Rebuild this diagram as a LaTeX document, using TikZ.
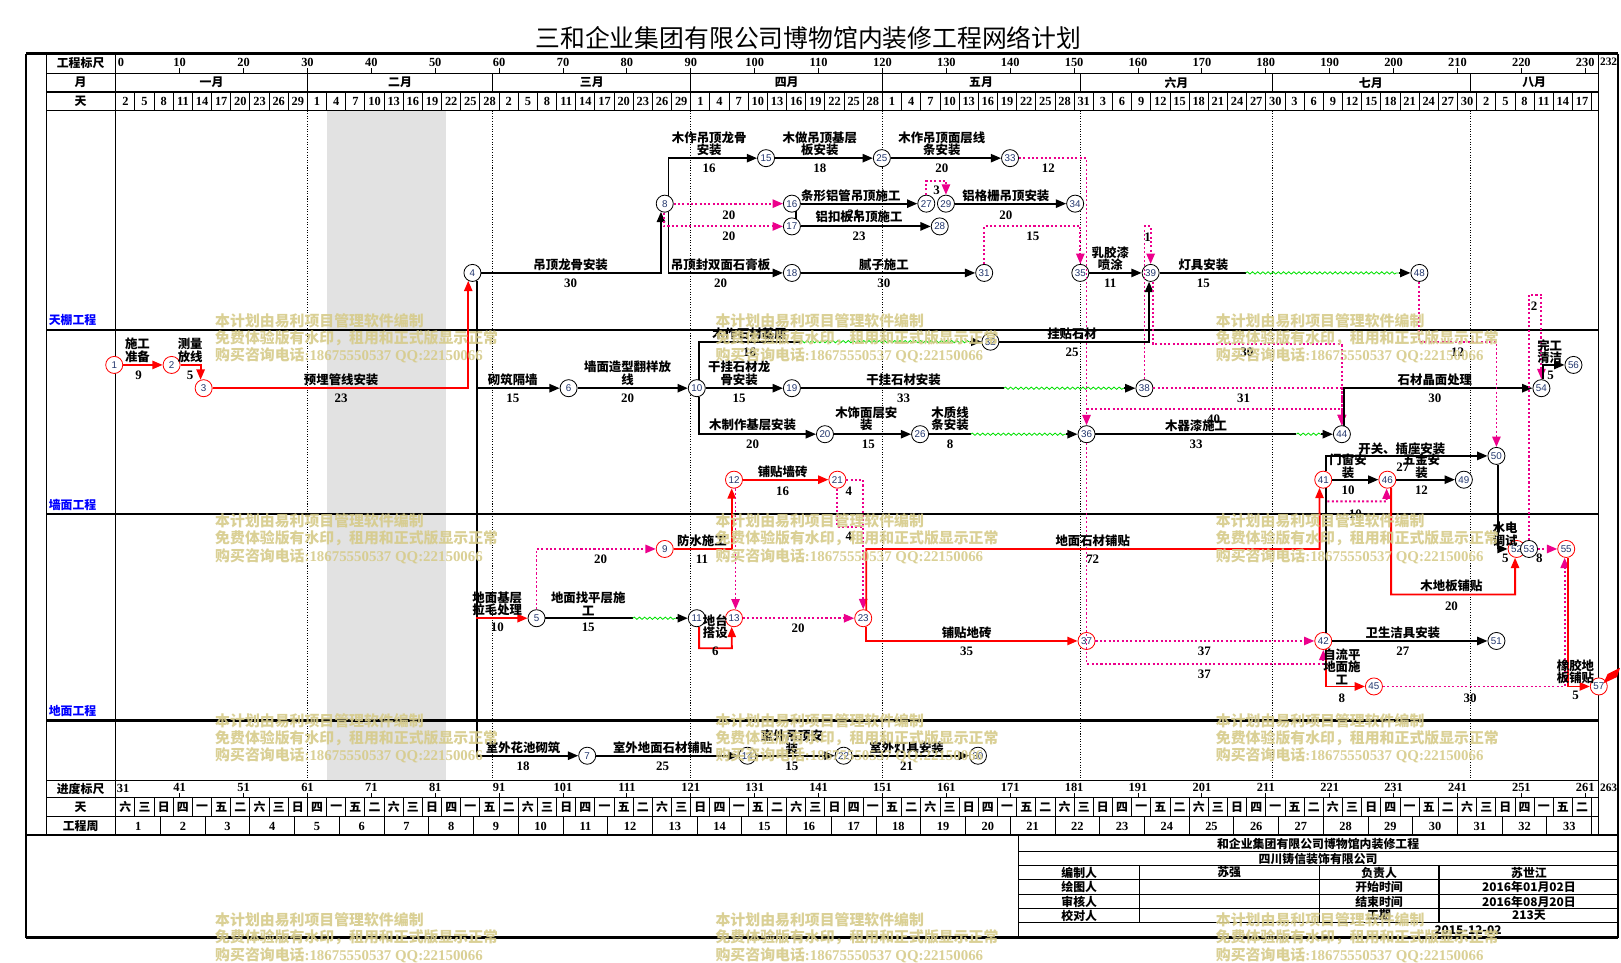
\documentclass[tikz,border=0pt]{standalone}
\usepackage{fontspec}
\setmainfont{Liberation Serif}
\newfontfamily\cjk{Noto Sans CJK SC}
\newfontfamily\nsans{Liberation Sans}
\usetikzlibrary{arrows.meta,decorations.pathmorphing}
\definecolor{nt}{RGB}{35,55,110}
\definecolor{wmc}{RGB}{214,203,138}
\definecolor{hol}{RGB}{226,226,226}
\definecolor{wv}{RGB}{0,225,0}
\newcommand\fLab{\cjk\bfseries\fontsize{12}{12}\selectfont}
\newcommand\fNum{\bfseries\fontsize{12.5}{12.5}\selectfont}
\newcommand\fCir{\nsans\fontsize{9.5}{9.5}\selectfont}
\newcommand\fHn{\bfseries\fontsize{12}{12}\selectfont}
\newcommand\fHc{\cjk\bfseries\fontsize{11.5}{12}\selectfont}
\newcommand\fWm{\cjk\bfseries\fontsize{14.4}{14.4}\selectfont}
\newcommand\mkL[4]{\node[llab] (#1) at (#2,#3) {#4};}
\newcommand\mkN[4]{\node[dnum] (#1) at (#2,#3) {#4};}
\begin{document}
\begin{tikzpicture}[x=1pt,y=-1pt,
  nnode/.style={circle,draw=black,line width=0.8pt,fill=white,minimum size=16.5pt,inner sep=0pt,font=\fCir,text=nt},
  rnode/.style={nnode,draw=red},
  atip/.style={-{Triangle[length=10pt,width=8pt]}},
  act/.style={line width=1.8pt,atip},
  actn/.style={line width=1.8pt},
  crit/.style={line width=1.8pt,red,atip},
  dum/.style={line width=1.8pt,magenta,dash pattern=on 2pt off 2.2pt,atip},
  dumn/.style={line width=1.8pt,magenta,dash pattern=on 2pt off 2.2pt},
  wavy/.style={draw=wv,line width=0.8pt,decorate,decoration={snake,amplitude=1.1pt,segment length=5pt}},
  llab/.style={font=\fLab,inner sep=0pt,align=center},
  dnum/.style={font=\fNum,inner sep=0pt},
  hn/.style={font=\fHn,inner sep=0pt},
  hc/.style={font=\fHc,inner sep=0pt},
  wm/.style={font=\fWm,text=wmc,inner sep=0pt,opacity=0.9},
  grid/.style={line width=1.2pt},
  sep/.style={line width=0.9pt},
  mdot/.style={line width=0.6pt,dash pattern=on 1pt off 1.5pt}]
\useasboundingbox (0,0) rectangle (1568,931);
\fill[white] (0,0) rectangle (1568,931);
\node[font=\cjk\fontsize{24}{24}\selectfont,inner sep=0pt] (title) at (782,37) {三和企业集团有限公司博物馆内装修工程网络计划};
% holiday shading and month lines
\fill[hol] (316,107) rectangle (431,755);
\foreach \m in {30,59,90,120,151,181,212}{
  \draw[mdot] ({112+6.18*\m},107) -- ({112+6.18*\m},755);
  \draw[sep] ({112+6.18*\m},71) -- ({112+6.18*\m},89);
}
% frame
\draw[line width=2.5pt] (25,52) -- (1565,52);
\draw[line width=2.5pt] (25,907) -- (1565,907);
\draw[line width=1.5pt] (25,52) -- (25,907);
\draw[line width=1.5pt] (1565,52) -- (1565,907);
\draw[line width=2.2pt] (25,808) -- (1565,808);
\draw[grid] (45,52) -- (45,808);
\draw[grid] (112,52) -- (112,808);
\draw[grid] (1546.5,52) -- (1546.5,808);
\draw[grid] (45,71) -- (1546.5,71);
\draw[grid] (45,89) -- (1546.5,89);
\draw[line width=1.5pt] (45,107) -- (1546.5,107);
\draw[line width=2.2pt] (45,319) -- (1546.5,319);
\draw[line width=2.2pt] (45,497) -- (1546.5,497);
\draw[line width=2.2pt] (45,697) -- (1546.5,697);
\draw[line width=1.5pt] (45,755) -- (1546.5,755);
\draw[grid] (45,771.5) -- (1546.5,771.5);
\draw[grid] (45,790) -- (1546.5,790);
% header texts
\node[hc] (h1) at (78,61) {工程标尺};
\node[hc] (h2) at (78,80) {月};
\node[hc] (h3) at (78,98) {天};
\node[hc] (h4) at (78,763) {进度标尺};
\node[hc] (h5) at (78,781) {天};
\node[hc] (h6) at (78,799) {工程周};
\node[hc,text=blue,anchor=west] (lane1) at (47,310) {天棚工程};
\node[hc,text=blue,anchor=west] (lane2) at (47,488) {墙面工程};
\node[hc,text=blue,anchor=west] (lane3) at (47,688) {地面工程};
% top scale
\node[hn] (s0) at (117,60) {0};
\foreach \d in {10,20,...,230}{
  \node[hn] (s\d) at ({112+6.18*\d},60) {\d};
  \draw[sep] ({112+6.18*\d},66) -- ({112+6.18*\d},71);
}
\node[hn,font=\bfseries\fontsize{11}{11}\selectfont] (s232) at (1556,60) {232};
% months
\foreach \c/\t [count=\i] in {204.7/一月,387/二月,572.4/三月,761/四月,949/五月,1138/六月,1326/七月,1484/八月}
  \node[hc] (mo\i) at (\c,80) {\t};
% day row
\foreach \k in {1,...,77}{
  \draw[sep] ({112+18.54*\k},89) -- ++(0,18);
  \draw[sep] ({112+18.54*\k},771.5) -- ++(0,18.5);
}
\foreach \t [count=\k from 0] in {2,5,8,11,14,17,20,23,26,29,1,4,7,10,13,16,19,22,25,28,2,5,8,11,14,17,20,23,26,29,1,4,7,10,13,16,19,22,25,28,1,4,7,10,13,16,19,22,25,28,31,3,6,9,12,15,18,21,24,27,30,3,6,9,12,15,18,21,24,27,30,2,5,8,11,14,17}
  \node[hn] (dy\k) at ({121.27+18.54*\k},98.5) {\t};
\foreach \t [count=\k from 0] in {六,三,日,四,一,五,二,六,三,日,四,一,五,二,六,三,日,四,一,五,二,六,三,日,四,一,五,二,六,三,日,四,一,五,二,六,三,日,四,一,五,二,六,三,日,四,一,五,二,六,三,日,四,一,五,二,六,三,日,四,一,五,二,六,三,日,四,一,五,二,六,三,日,四,一,五,二}
  \node[hc] (wd\k) at ({121.27+18.54*\k},781) {\t};
% weeks
\foreach \w in {1,...,33}{
  \node[hn] (wk\w) at ({112+43.26*\w-21.63},799.5) {\w};
  \draw[sep] ({112+43.26*\w},790) -- ++(0,18);
}
% bottom scale
\node[hn] (p0) at (119,763) {31};
\foreach \d in {10,20,...,230}{
  \pgfmathtruncatemacro\pv{\d+31}
  \node[hn] (p\d) at ({112+6.18*\d},762) {\pv};
  \draw[sep] ({112+6.18*\d},767.5) -- ({112+6.18*\d},771.5);
}
\node[hn,font=\bfseries\fontsize{11}{11}\selectfont] (p232) at (1556,762) {263};
% title block
\draw[grid] (985,808) -- (985,907);
\foreach \yy in {824,837,851,865,879,892} \draw[grid] (985,\yy) -- (1565,\yy);
\foreach \xx in {1102,1276,1392} \draw[grid] (\xx,837) -- (\xx,892);
\node[hc] (tb1) at (1275,816.5) {和企业集团有限公司博物馆内装修工程};
\node[hc] (tb2) at (1275,830.5) {四川铸信装饰有限公司};
\node[hc] (tb3) at (1044,844) {编制人};
\node[hc] (tb4) at (1189,844) {苏强};
\node[hc] (tb5) at (1334,844) {负责人};
\node[hc] (tb6) at (1479,844) {苏世江};
\node[hc] (tb7) at (1044,858) {绘图人};
\node[hc] (tb8) at (1334,858) {开始时间};
\node[hc] (tb9) at (1479,858) {2016年01月02日};
\node[hc] (tb10) at (1044,872) {审核人};
\node[hc] (tb11) at (1334,872) {结束时间};
\node[hc] (tb12) at (1479,872) {2016年08月20日};
\node[hc] (tb13) at (1044,885.5) {校对人};
\node[hc] (tb14) at (1334,885.5) {工期};
\node[hc] (tb15) at (1479,885.5) {213天};
\node[hc] (tb16) at (1420,899.5) {2015-12-02};
% nodes
\node[rnode] (n1) at (110.5,353) {1};
\node[rnode] (n2) at (166,353) {2};
\node[rnode] (n3) at (197,375.5) {3};
\node[nnode] (n4) at (457,264) {4};
\node[nnode] (n5) at (519,598) {5};
\node[nnode] (n6) at (550,375.5) {6};
\node[nnode] (n7) at (568,731) {7};
\node[nnode] (n8) at (643,197) {8};
\node[rnode] (n9) at (643,531) {9};
\node[nnode] (n10) at (674,375.5) {10};
\node[nnode] (n11) at (674,598) {11};
\node[rnode] (n12) at (710,464) {12};
\node[rnode] (n13) at (710,598) {13};
\node[nnode] (n14) at (723,731) {14};
\node[nnode] (n15) at (741,153) {15};
\node[nnode] (n16) at (766,197) {16};
\node[nnode] (n17) at (766,219) {17};
\node[nnode] (n18) at (766,264) {18};
\node[nnode] (n19) at (766,375.5) {19};
\node[nnode] (n20) at (798,420) {20};
\node[rnode] (n21) at (810,464) {21};
\node[nnode] (n22) at (816,731) {22};
\node[rnode] (n23) at (835,598) {23};
\node[nnode] (n25) at (853,153) {25};
\node[nnode] (n26) at (890,420) {26};
\node[nnode] (n27) at (896,197) {27};
\node[nnode] (n28) at (909,219) {28};
\node[nnode] (n29) at (915,197) {29};
\node[nnode] (n30) at (946,731) {30};
\node[nnode] (n31) at (952,264) {31};
\node[nnode] (n32) at (958,330.5) {32};
\node[nnode] (n33) at (977,153) {33};
\node[nnode] (n34) at (1040,197) {34};
\node[nnode] (n35) at (1045,264) {35};
\node[nnode] (n36) at (1051,420) {36};
\node[rnode] (n37) at (1051,620) {37};
\node[nnode] (n38) at (1107,375.5) {38};
\node[nnode] (n39) at (1113,264) {39};
\node[rnode] (n41) at (1280,464) {41};
\node[rnode] (n42) at (1280,620) {42};
\node[nnode] (n44) at (1298,420) {44};
\node[rnode] (n45) at (1329,664) {45};
\node[rnode] (n46) at (1342,464) {46};
\node[nnode] (n48) at (1373,264) {48};
\node[nnode] (n49) at (1416,464) {49};
\node[nnode] (n50) at (1447.5,441) {50};
\node[nnode] (n51) at (1447.5,620) {51};
\node[rnode] (n52) at (1467,531) {52};
\node[nnode] (n53) at (1479,531) {53};
\node[nnode] (n54) at (1491,375.5) {54};
\node[rnode] (n55) at (1515,531) {55};
\node[nnode] (n56) at (1522,353) {56};
\node[rnode] (n57) at (1546.5,664) {57};
% helper coordinates
\coordinate (d27) at (896,175);
\coordinate (d29) at (915,175);
\coordinate (d31) at (952,219);
\coordinate (d35) at (1045,219);
\coordinate (v33) at (1051,153);
\coordinate (d38a) at (1107,219);
\coordinate (d38b) at (1113,219);
\coordinate (w39) at (1205,264);
\coordinate (a48) at (1353,264);
\coordinate (w10) at (774,330.5);
\coordinate (a32) at (938,330.5);
\coordinate (w19) at (971,375.5);
\coordinate (a38) at (1087,375.5);
\coordinate (w26) at (939,420);
\coordinate (a36) at (1031,420);
\coordinate (w36) at (1254,420);
\coordinate (a44) at (1278,420);
\coordinate (d44b) at (1298,333);
\coordinate (d3844) at (1298,375.5);
\coordinate (b40a) at (1051,396);
\coordinate (b40b) at (1298,396);
\coordinate (b37a) at (1051,642);
\coordinate (b37b) at (1280,642);
\coordinate (d50) at (1447.5,331);
\coordinate (c54) at (1491,285);
\coordinate (d41) at (1284,485);
\coordinate (d46) at (1341.3,485);
\coordinate (c52) at (1465.6,575);
\coordinate (c45) at (460.9,598);
\coordinate (w5) at (612,598);
\coordinate (a11) at (654,598);
\coordinate (c13) at (707.9,627);
\coordinate (d21) at (835,510);
\coordinate (c41) at (1276.5,531);
% lane 1 edges
\draw[crit] (n1) -- (n2);
\draw[crit] (n2) -| (n3.110);
\draw[crit] (n3) -| (n4.-118);
\draw[act] (n4) -| (n8.-115);
\draw[act] (n8.65) |- (n15);
\draw[act] (n15) -- (n25);
\draw[act] (n25) -- (n33);
\draw[act] (n8.-65) |- (n18);
\draw[act] (n18) -- (n31);
\draw[dum] (n8) -- (n16);
\draw[dum] (n8.-95) |- (n17);
\draw[actn] (n16.-60) -- (n17.60);
\draw[act] (n16) -- (n27);
\draw[act] (n17) -- (n28);
\draw[dum] (n27) -- (d27) -- (d29) -- (n29);
\draw[act] (n29) -- (n34);
\draw[dum] (n31) -- (d31) -- (d35) -- (n35);
\draw[dum] (n33) -- (v33) -- (n36);
\draw[act] (n35) -- (n39);
\draw[dum] (n38) -- (d38a) -- (d38b) -- (n39);
\draw[actn] (n39) -- (w39);
\draw[wavy] (w39) -- (a48);
\draw[act] (a48) -- (n48);
% lane 2 edges
\draw[act] (n4.-62) |- (n6);
\draw[act] (n6) -- (n10);
\draw[actn] (n10.75) |- (w10);
\draw[wavy] (w10) -- (a32);
\draw[act] (a32) -- (n32);
\draw[act] (n10) -- (n19);
\draw[actn] (n19) -- (w19);
\draw[wavy] (w19) -- (a38);
\draw[act] (a38) -- (n38);
\draw[act] (n10.-75) |- (n20);
\draw[act] (n20) -- (n26);
\draw[actn] (n26) -- (w26);
\draw[wavy] (w26) -- (a36);
\draw[act] (a36) -- (n36);
\draw[act] (n32) -| (n39.-100);
\draw[dum] (n39.-75) |- (d44b) -- (n44);
\draw[dum] (n38) -- (d3844) -- (n44);
\draw[dum] (b40a) -- (b40b) -- (n44);
\draw[actn] (n36) -- (w36);
\draw[wavy] (w36) -- (a44);
\draw[act] (a44) -- (n44);
\draw[act] (n44.75) |- (n54);
\draw[dum] (n48) |- (d50) -- (n50);
\draw[dum] (n53) |- (c54) -- (n54);
\draw[act] (n54.80) |- (n56);
\draw[act] (n41.70) |- (n50);
\draw[act] (n41) -- (n46);
\draw[act] (n46) -- (n49);
\draw[actn] (n41.-70) -- (n42.70);
\draw[dum] (d41) -- (d46) -- (n46.-95);
\draw[crit] (n9) -| (n12.-105);
\draw[crit] (n12) -- (n21);
\draw[dum] (n12.-80) -- (n13.80);
\draw[dum] (n21) -| (n23);
\draw[dumn] (n21) |- (d21);
% lane 3 edges
\draw[act] (n4.-62) |- (n7);
\draw[crit] (c45) -- (n5);
\draw[dum] (n5) |- (n9);
\draw[actn] (n5) -- (w5);
\draw[wavy] (w5) -- (a11);
\draw[act] (a11) -- (n11);
\draw[crit] (n11.-75) |- (c13) -- (n13.-105);
\draw[dum] (n13) -- (n23);
\draw[crit] (n23.70) |- (c41) -- (n41.-115);
\draw[crit] (n23.-70) |- (n37);
\draw[dum] (n37) -- (n42);
\draw[dum] (n36) -- (b37a) -- (b37b) -- (n42);
\draw[act] (n42) -- (n51);
\draw[crit] (n42.-70) |- (n45);
\draw[crit] (n46.-65) |- (c52) -- (n52.-100);
\draw[act] (n50.-80) |- (n52);
\draw[dum] (n53) -- (n55);
\draw[dum] (n45) -| (n55.-100);
\draw[crit] (n55.-80) |- (n57);
\fill[red] (1551,661) -- (1555,652) -- (1567,646) -- (1564,655) -- cycle;
% lane 4 edges
\draw[act] (n7) -- (n14);
\draw[act] (n14) -- (n22);
\draw[act] (n22) -- (n30);
% labels lane 1
\mkL{L1}{552}{256}{吊顶龙骨安装} \mkN{D1}{552}{274}{30}
\mkL{L2}{686}{139}{木作吊顶龙骨\\安装} \mkN{D2}{686}{163}{16}
\mkL{L3}{793}{139}{木做吊顶基层\\板安装} \mkN{D3}{793}{163}{18}
\mkL{L4}{911}{139}{木作吊顶面层线\\条安装} \mkN{D4}{911}{163}{20}
\mkN{D5}{1014}{163}{12}
\mkN{D6}{705}{208}{20}
\mkN{D7}{705}{229}{20}
\mkN{D8}{826}{207}{21}
\mkL{L8}{823}{189}{条形铝管吊顶施工}
\mkL{L9}{831}{210}{铝扣板吊顶施工} \mkN{D9}{831}{229}{23}
\mkN{D10}{906}{184}{3}
\mkL{L11}{973}{189}{铝格栅吊顶安装} \mkN{D11}{973}{208}{20}
\mkN{D12}{999}{229}{15}
\mkL{L13}{697}{256}{吊顶封双面石膏板} \mkN{D13}{697}{274}{20}
\mkL{L14}{855}{256}{腻子施工} \mkN{D14}{855}{274}{30}
\mkL{L15}{1074}{250}{乳胶漆\\喷涂} \mkN{D15}{1074}{274}{11}
\mkN{D16}{1110}{229}{1}
\mkL{L17}{1164}{256}{灯具安装} \mkN{D17}{1164}{274}{15}
\mkN{D18}{1484}{296}{2}
% labels lane 2
\mkL{L20}{133}{339}{施工\\准备} \mkN{D20}{134}{363}{9}
\mkL{L21}{184}{339}{测量\\放线} \mkN{D21}{184}{363}{5}
\mkL{L22}{330}{367}{预埋管线安装} \mkN{D22}{330}{385}{23}
\mkL{L23}{496}{367}{砌筑隔墙} \mkN{D23}{496}{385}{15}
\mkL{L24}{607}{361}{墙面造型翻样放\\线} \mkN{D24}{607}{385}{20}
\mkL{L25}{725}{323}{木作石材基层} \mkN{D25}{725}{341}{16}
\mkL{L26}{715}{361}{干挂石材龙\\骨安装} \mkN{D26}{715}{385}{15}
\mkL{L27}{874}{367}{干挂石材安装} \mkN{D27}{874}{385}{33}
\mkL{L28}{728}{411}{木制作基层安装} \mkN{D28}{728}{430}{20}
\mkL{L29}{838}{405}{木饰面层安\\装} \mkN{D29}{840}{430}{15}
\mkL{L30}{919}{405}{木质线\\条安装} \mkN{D30}{919}{430}{8}
\mkL{L31}{1037}{323}{挂贴石材} \mkN{D31}{1037}{341}{25}
\mkN{D32}{1206}{341}{30}
\mkN{D33}{1410}{341}{12}
\mkN{D34}{1203}{385}{31}
\mkN{D35}{1174}{406}{40}
\mkL{L36}{1157}{412}{木器漆施工} \mkN{D36}{1157}{430}{33}
\mkL{L37}{1388}{367}{石材晶面处理} \mkN{D37}{1388}{385}{30}
\mkL{L38}{1499}{340}{完工\\清洁} \mkN{D38}{1500}{363}{5}
\mkL{L39}{1356}{434}{开关、插座安装} \mkN{D39}{1357}{452}{27}
\mkL{L40}{1304}{451}{门窗安\\装} \mkN{D40}{1304}{474}{10}
\mkL{L41}{1375}{451}{五金安\\装} \mkN{D41}{1375}{474}{12}
\mkN{D42}{1311}{497}{10}
\mkL{L43}{757}{456}{铺贴墙砖} \mkN{D43}{757}{475}{16}
\mkN{D44}{821}{475}{4}
\mkN{D45}{821}{519}{4}
% labels lane 3
\mkL{L50}{679}{523}{防水施工} \mkN{D50}{679}{541}{11}
\mkN{D51}{581}{541}{20}
\mkL{L52}{481}{584}{地面基层\\拉毛处理} \mkN{D52}{481}{607}{10}
\mkL{L53}{569}{584}{地面找平层施\\工} \mkN{D53}{569}{607}{15}
\mkL{L54}{692}{606}{地台\\搭设} \mkN{D54}{692}{630}{6}
\mkN{D55}{772}{608}{20}
\mkL{L56}{1057}{523}{地面石材铺贴} \mkN{D56}{1057}{541}{72}
\mkL{L57}{935}{612}{铺贴地砖} \mkN{D57}{935}{630}{35}
\mkN{D58}{1165}{630}{37}
\mkN{D59}{1165}{652}{37}
\mkL{L60}{1357}{612}{卫生洁具安装} \mkN{D60}{1357}{630}{27}
\mkL{L61}{1298}{645}{自流平\\地面施\\工} \mkN{D61}{1298}{675}{8}
\mkN{D62}{1422}{675}{30}
\mkL{L63}{1404}{567}{木地板铺贴} \mkN{D63}{1404}{586}{20}
\mkL{L64}{1456}{517}{水电\\调试} \mkN{D64}{1456}{540}{5}
\mkN{D65}{1489}{540}{8}
\mkL{L66}{1524}{650}{橡胶地\\板铺贴} \mkN{D66}{1524}{673}{5}
% labels lane 4
\mkL{L70}{506}{723}{室外花池砌筑} \mkN{D70}{506}{741}{18}
\mkL{L71}{641}{723}{室外地面石材铺贴} \mkN{D71}{641}{741}{25}
\mkL{L72}{766}{718}{室外吊顶安\\装} \mkN{D72}{766}{741}{15}
\mkL{L73}{877}{723}{室外灯具安装} \mkN{D73}{877}{741}{21}
% watermark
\foreach \wx in {208,692,1176}{\foreach \wy in {310,504,697,890}{
  \node[wm,anchor=west] (wa-\wx-\wy) at (\wx,\wy) {本计划由易利项目管理软件编制};
  \node[wm,anchor=west] (wb-\wx-\wy) at (\wx,\wy+17) {免费体验版有水印，租用和正式版显示正常};
  \node[wm,anchor=west] (wc-\wx-\wy) at (\wx,\wy+34) {购买咨询电话{\rmfamily\bfseries :18675550537 QQ:22150066}};
}}
\end{tikzpicture}
\end{document}
